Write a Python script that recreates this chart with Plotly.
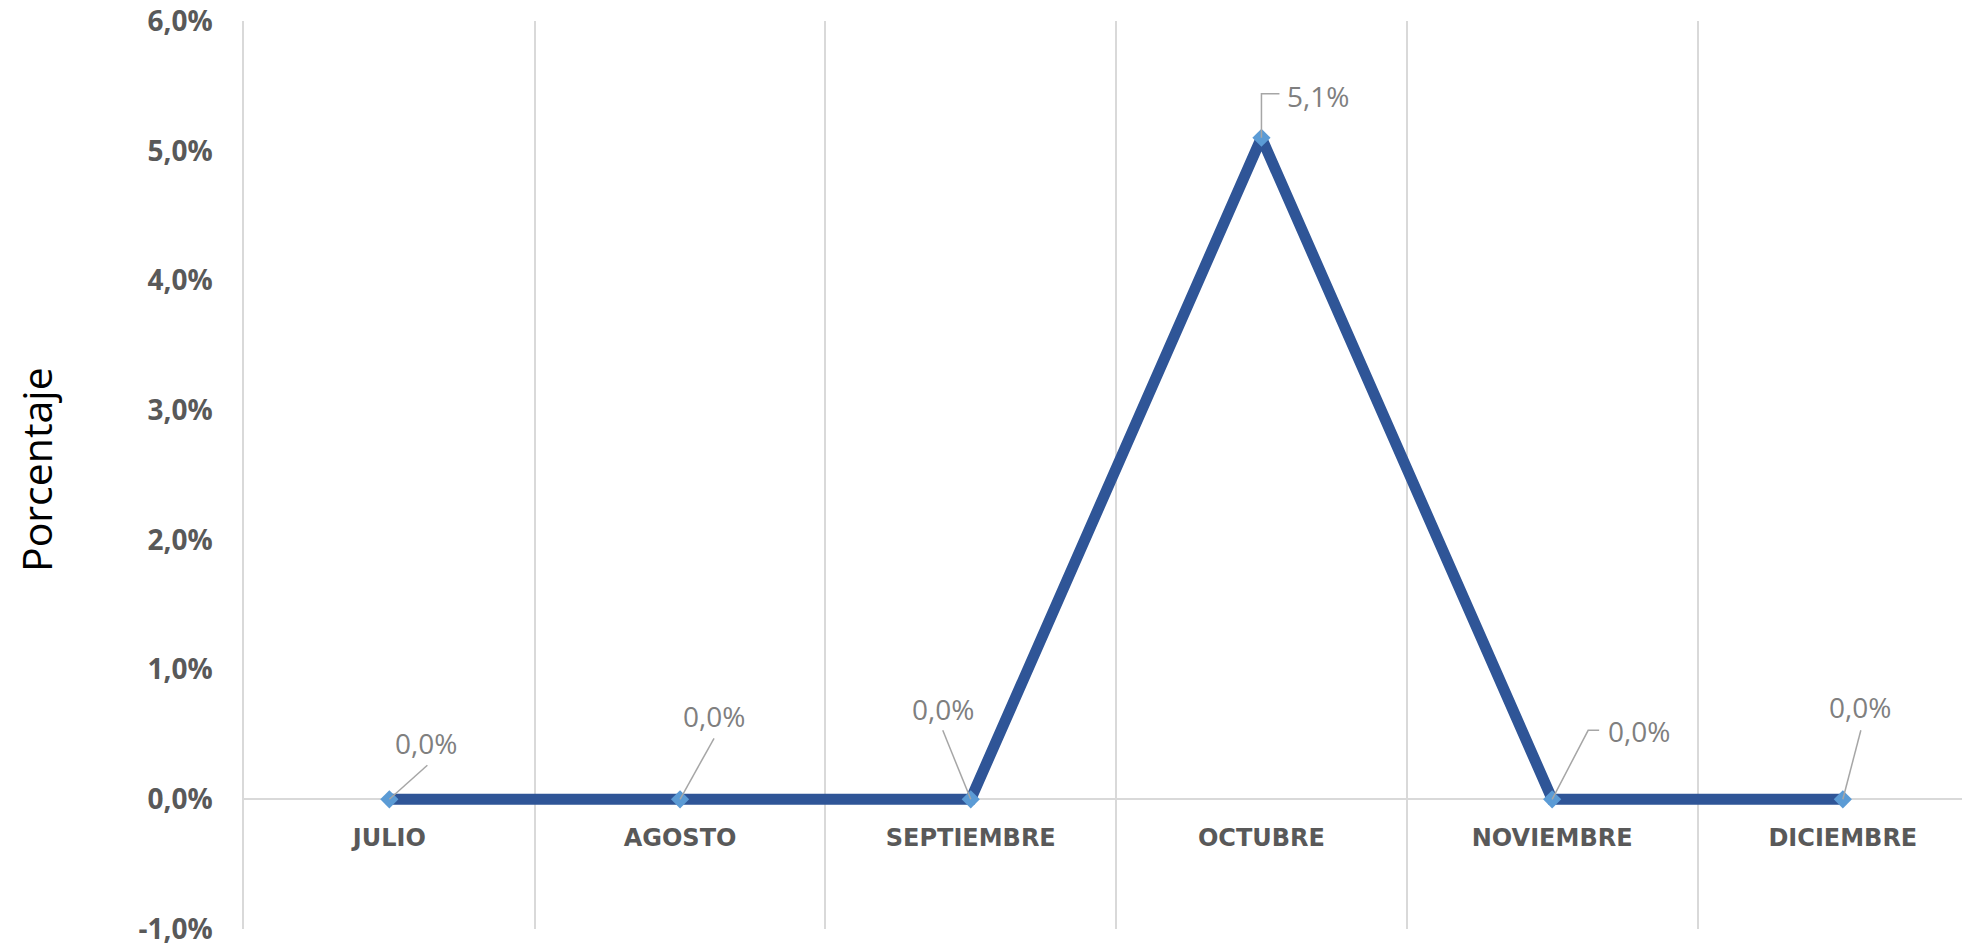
import plotly.graph_objects as go

# ---- data ----
months = ["JULIO", "AGOSTO", "SEPTIEMBRE", "OCTUBRE", "NOVIEMBRE", "DICIEMBRE"]
values = [0.0, 0.0, 0.0, 5.1, 0.0, 0.0]
y_ticks = [-1, 0, 1, 2, 3, 4, 5, 6]


def pct(v):
    return f"{v:.1f}".replace(".", ",") + "%"


# ---- label placement (pixels, x right / y up) ----
label_offsets = [(37, 56), (34, 83), (-28, 90), (57, 42), (87, 68), (17, 92)]
leader_paths = [
    [(38, 34)],
    [(34, 61)],
    [(-28, 69)],
    [(0, 44), (18, 44)],
    [(36, 69), (47, 69)],
    [(18, 69)],
]

FONT = "Open Sans"
W, H = 1970, 947
ML, MT, MB, MR = 236, 13, 26, 0
CAT_PX = 290.7
xpos = list(range(len(months)))
xrange = [-0.5, -0.5 + (W - ML - MR) / CAT_PX]

fig = go.Figure()
fig.add_trace(go.Scatter(
    x=xpos, y=values, mode="lines+markers",
    line=dict(color="#2F5597", width=11),
    marker=dict(symbol="diamond", size=14, color="#5B9BD5", line=dict(width=0)),
    hoverinfo="skip", showlegend=False,
))
fig.add_trace(go.Scatter(x=[xpos[0]], y=[values[0]], xaxis="x2", mode="markers",
                         marker=dict(opacity=0), hoverinfo="skip", showlegend=False))

annotations = []
shapes = []
for i, v in enumerate(values):
    dx, dy = label_offsets[i]
    annotations.append(dict(
        x=i, y=v, xref="x", yref="y", text=pct(v), showarrow=False,
        xshift=dx, yshift=dy, xanchor="center", yanchor="middle",
        font=dict(family=FONT, size=28, color="#7F7F7F"),
    ))
    path = "M 0 0 " + " ".join(f"L {px} {py}" for px, py in leader_paths[i])
    shapes.append(dict(
        type="path", xref="x", yref="y", xsizemode="pixel", ysizemode="pixel",
        xanchor=i, yanchor=v, path=path, layer="above",
        line=dict(color="#A6A6A6", width=1.5),
    ))

annotations.append(dict(
    text="Porcentaje", xref="paper", yref="paper", x=0, y=0.5,
    xshift=-208, yshift=5, showarrow=False, textangle=-90,
    xanchor="center", yanchor="middle",
    font=dict(family=FONT, size=41, color="#000000"),
))

fig.update_layout(
    width=W, height=H, autosize=False,
    margin=dict(l=ML, r=MR, t=MT, b=MB, autoexpand=False),
    paper_bgcolor="white", plot_bgcolor="white",
    xaxis=dict(
        range=xrange, tickvals=xpos, ticktext=months, automargin=False,
        showgrid=False, zeroline=False, showline=False,
        anchor="free", position=1 / 7,
        ticks="outside", ticklen=0, ticklabelstandoff=17,
        tickfont=dict(family="DejaVu Sans", size=24, color="#595959", weight="bold"),
    ),
    xaxis2=dict(
        range=xrange, overlaying="x", automargin=False,
        tickvals=[k - 0.5 for k in range(len(months) + 1)],
        showgrid=True, gridcolor="#D9D9D9", gridwidth=1.5,
        showticklabels=False, zeroline=False, showline=False, ticks="",
    ),
    yaxis=dict(
        range=[-1, 6], tickvals=y_ticks, ticktext=[pct(t) for t in y_ticks],
        automargin=False, ticklabeloverflow="allow",
        showgrid=False, zeroline=True, zerolinecolor="#D9D9D9", zerolinewidth=2,
        showline=True, linecolor="#D9D9D9", linewidth=1.5,
        ticks="", ticklabelstandoff=24,
        tickfont=dict(family=FONT, size=28, color="#595959", weight="bold"),
    ),
    annotations=annotations,
    shapes=shapes,
)

fig.write_html("out.html")
